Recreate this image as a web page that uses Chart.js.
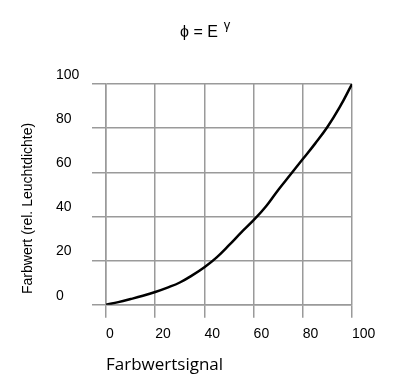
<!DOCTYPE html>
<html>
<head>
<meta charset="utf-8">
<script src="https://cdn.jsdelivr.net/npm/chart.js@4/dist/chart.umd.min.js"></script>
<style>
  body { margin: 0; background: #fff; }
  canvas { display: block; }
</style>
</head>
<body>
<canvas id="chart" width="400" height="387"></canvas>
<script>
// Values (signal in %, value in %)
const signal = [0, 5, 10, 15, 20, 25, 30, 35, 40, 45, 50, 55, 60, 65, 70, 75, 80, 85, 90, 95, 100];
const farbwert = [0, 1.2, 2.6, 4.1, 5.8, 7.8, 10.1, 13.3, 17, 21.5, 27, 32.8, 38.3, 44.5, 52, 59, 66, 73, 80.5, 89.5, 100];
const tickValues = [0, 20, 40, 60, 80, 100];

const titleMain = 'ϕ = E';
const titleExp = 'γ';
const xTitle = 'Farbwertsignal';
const yTitle = 'Farbwert (rel. Leuchtdichte)';

const gridColor = '#9a9a9a';
const labelFont = '"Liberation Sans", Arial, sans-serif';

// Title with superscript gamma, plus the rotated y title
const extraText = {
    id: 'extraText',
    afterDraw(chart) {
        const ctx = chart.ctx;
        ctx.save();
        ctx.fillStyle = '#000';
        ctx.textBaseline = 'alphabetic';
        ctx.textAlign = 'left';
        ctx.font = '16px ' + labelFont;
        ctx.fillText(titleMain, 180, 37);
        const w = ctx.measureText(titleMain).width;
        ctx.font = '13px ' + labelFont;
        ctx.fillText(titleExp, 180 + w + 6, 29);

        // y axis title
        const area = chart.chartArea;
        ctx.translate(28, (area.top + area.bottom) / 2 + 14);
        ctx.rotate(-Math.PI / 2);
        ctx.textAlign = 'center';
        ctx.textBaseline = 'middle';
        ctx.font = '14px ' + labelFont;
        ctx.fillText(yTitle, 0, 0);
        ctx.restore();
    }
};

const points = signal.map((s, i) => ({ x: s, y: farbwert[i] }));

new Chart(document.getElementById('chart').getContext('2d'), {
    type: 'line',
    data: {
        datasets: [{
            data: points,
            borderColor: '#000',
            borderWidth: 2.5,
            pointRadius: 0,
            tension: 0.4,
            fill: false
        }]
    },
    options: {
        responsive: false,
        animation: false,
        devicePixelRatio: 1,
        layout: {
            padding: { top: 84, right: 48, bottom: 8, left: 56 }
        },
        plugins: {
            legend: { display: false },
            tooltip: { enabled: false }
        },
        scales: {
            x: {
                type: 'linear',
                min: 0,
                max: 100,
                afterBuildTicks: axis => { axis.ticks = tickValues.map(v => ({ value: v })); },
                grid: { color: gridColor, lineWidth: 1.5, tickLength: 13 },
                border: { color: gridColor, width: 1.5 },
                ticks: {
                    align: 'start',
                    padding: 8,
                    color: '#000',
                    font: { family: labelFont, size: 14 }
                },
                title: {
                    display: true,
                    text: xTitle,
                    align: 'start',
                    color: '#000',
                    font: { family: '"Open Sans", sans-serif', size: 17 },
                    padding: { top: 4, bottom: 4 }
                }
            },
            y: {
                type: 'linear',
                min: 0,
                max: 100,
                afterBuildTicks: axis => { axis.ticks = tickValues.map(v => ({ value: v })); },
                afterFit: axis => { axis.width = 50; },
                grid: { color: gridColor, lineWidth: 1.5, tickLength: 14 },
                border: { color: gridColor, width: 1.5 },
                ticks: {
                    crossAlign: 'far',
                    padding: 13,
                    labelOffset: -9,
                    color: '#000',
                    font: { family: labelFont, size: 14 }
                }
            }
        }
    },
    plugins: [extraText]
});
</script>
</body>
</html>
